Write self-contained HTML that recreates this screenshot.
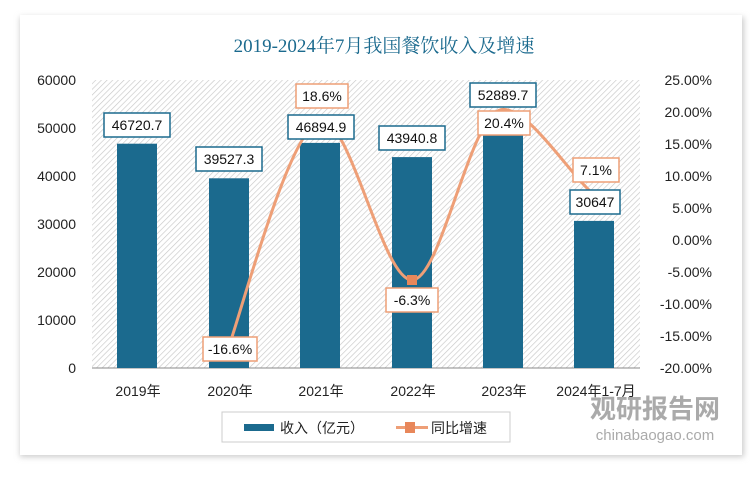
<!DOCTYPE html>
<html><head><meta charset="utf-8"><style>
body{margin:0;background:#fff;width:750px;height:472px;overflow:hidden}
svg text{font-family:"Liberation Sans","Noto Sans CJK SC",sans-serif}
</style></head><body>
<svg width="750" height="472" viewBox="0 0 750 472">
<defs>
<pattern id="h" width="4" height="4" patternUnits="userSpaceOnUse" patternTransform="rotate(45)">
<rect width="4" height="4" fill="#fff"/><line x1="0" y1="0" x2="0" y2="4" stroke="#c8c8c8" stroke-width="1.3"/></pattern>
<filter id="sh" x="-5%" y="-5%" width="110%" height="110%"><feGaussianBlur stdDeviation="3"/></filter>
</defs>
<rect x="0" y="0" width="750" height="472" fill="#fff"/>
<rect x="20" y="17" width="724" height="440" fill="#ccc" filter="url(#sh)"/>
<rect x="20" y="15" width="722" height="440" fill="#fff"/>
<text x="384" y="52" text-anchor="middle" font-size="19" fill="#1b6a8e" style="font-family:'Liberation Serif','Noto Serif CJK SC',serif">2019-2024年7月我国餐饮收入及增速</text>
<rect x="92" y="80" width="548" height="288" fill="url(#h)"/>
<line x1="92" y1="368" x2="640" y2="368" stroke="#888" stroke-width="1"/>
<g font-size="14" fill="#222" text-anchor="end">
<text x="76" y="85">60000</text><text x="76" y="133">50000</text><text x="76" y="181">40000</text><text x="76" y="229">30000</text><text x="76" y="277">20000</text><text x="76" y="325">10000</text><text x="76" y="373">0</text>
</g>
<g font-size="14" fill="#222" text-anchor="end">
<text x="712" y="85">25.00%</text><text x="712" y="117">20.00%</text><text x="712" y="149">15.00%</text><text x="712" y="181">10.00%</text><text x="712" y="213">5.00%</text><text x="712" y="245">0.00%</text><text x="712" y="277">-5.00%</text><text x="712" y="309">-10.00%</text><text x="712" y="341">-15.00%</text><text x="712" y="373">-20.00%</text>
</g>
<g fill="#1b6a8e">
<rect x="117" y="143.7" width="40" height="224.3"/>
<rect x="209" y="178.3" width="40" height="189.7"/>
<rect x="300" y="142.9" width="40" height="225.1"/>
<rect x="392" y="157.1" width="40" height="210.9"/>
<rect x="483" y="114.1" width="40" height="253.9"/>
<rect x="574" y="220.9" width="40" height="147.1"/>
</g>
<path d="M229,346 C244,303 290,128 320,121 C350,114 382,280 412,280 C442,280 470,110 503,109.4 C530,109 570,175 594,194.6" fill="none" stroke="#ee9f77" stroke-width="3"/>
<rect x="407" y="275" width="10" height="10" fill="#e8875a"/>
<g font-size="14" fill="#111" text-anchor="middle">
<rect x="104" y="113" width="66" height="24" fill="#fff" stroke="#1b6a8e" stroke-width="1.5"/><text x="137" y="130">46720.7</text>
<rect x="196" y="147" width="66" height="24" fill="#fff" stroke="#1b6a8e" stroke-width="1.5"/><text x="229" y="164">39527.3</text>
<rect x="288" y="115" width="66" height="24" fill="#fff" stroke="#1b6a8e" stroke-width="1.5"/><text x="321" y="132">46894.9</text>
<rect x="379" y="126" width="66" height="24" fill="#fff" stroke="#1b6a8e" stroke-width="1.5"/><text x="412" y="143">43940.8</text>
<rect x="470" y="83" width="66" height="24" fill="#fff" stroke="#1b6a8e" stroke-width="1.5"/><text x="503" y="100">52889.7</text>
<rect x="570" y="190" width="50" height="24" fill="#fff" stroke="#1b6a8e" stroke-width="1.5"/><text x="595" y="207">30647</text>
<rect x="203" y="337" width="54" height="24" fill="#fff" stroke="#ee9f77" stroke-width="1.5"/><text x="230" y="354">-16.6%</text>
<rect x="296" y="84" width="52" height="24" fill="#fff" stroke="#ee9f77" stroke-width="1.5"/><text x="322" y="101">18.6%</text>
<rect x="386" y="288" width="52" height="24" fill="#fff" stroke="#ee9f77" stroke-width="1.5"/><text x="412" y="305">-6.3%</text>
<rect x="478" y="111" width="52" height="24" fill="#fff" stroke="#ee9f77" stroke-width="1.5"/><text x="504" y="128">20.4%</text>
<rect x="573" y="158" width="46" height="24" fill="#fff" stroke="#ee9f77" stroke-width="1.5"/><text x="596" y="175">7.1%</text>
</g>
<g font-size="14" fill="#222" text-anchor="middle">
<text x="138" y="396">2019年</text><text x="230" y="396">2020年</text><text x="321" y="396">2021年</text><text x="413" y="396">2022年</text><text x="504" y="396">2023年</text><text x="596" y="396">2024年1-7月</text>
</g>
<text x="655" y="418" text-anchor="middle" font-size="26" font-weight="bold" fill="#aaa">观研报告网</text>
<text x="655" y="440" text-anchor="middle" font-size="15" fill="#aaa">chinabaogao.com</text>
<rect x="222" y="412" width="288" height="30" fill="none" stroke="#ccc"/>
<rect x="244" y="424" width="30" height="7" fill="#1b6a8e"/>
<text x="280" y="433" font-size="14" fill="#222">收入（亿元）</text>
<line x1="396" y1="427.5" x2="428" y2="427.5" stroke="#ee9f77" stroke-width="3"/>
<rect x="405" y="422" width="10" height="11" fill="#e8875a"/>
<text x="431" y="433" font-size="14" fill="#222">同比增速</text>
</svg>
</body></html>
